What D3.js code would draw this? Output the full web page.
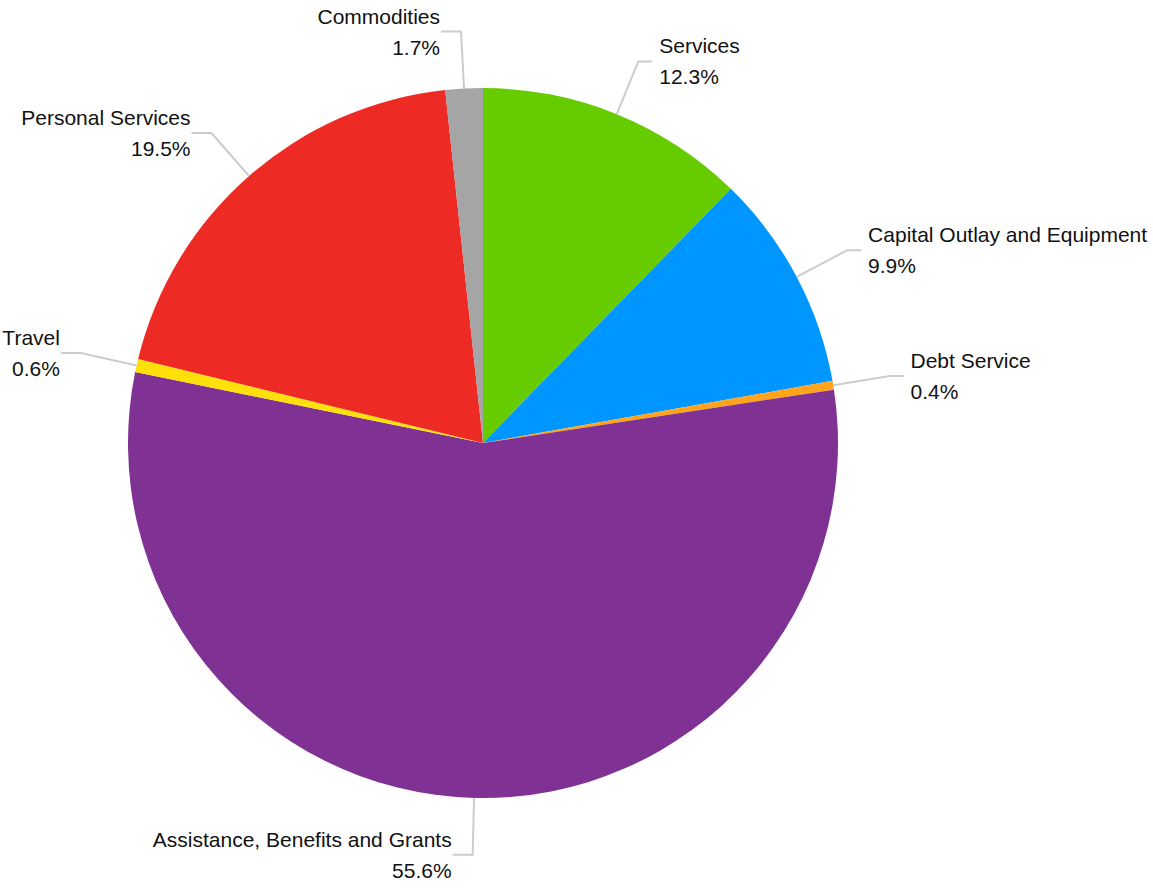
<!DOCTYPE html>
<html>
<head>
<meta charset="utf-8">
<script src="https://cdn.jsdelivr.net/npm/d3@7"></script>
<style>
  html, body { margin: 0; padding: 0; background: #fff; }
  svg text { font-family: "Liberation Sans", Arial, sans-serif; fill: #111; }
</style>
</head>
<body>
<div id="chart"></div>
<script>
const categories = ["Services", "Capital Outlay and Equipment", "Debt Service",
  "Assistance, Benefits and Grants", "Travel", "Personal Services", "Commodities"];
const shares = [12.3, 9.9, 0.4, 55.6, 0.6, 19.5, 1.7];
const colors = ["#66cc00", "#0096ff", "#ffa41c", "#803294", "#ffe00a", "#ee2a25", "#a5a5a5"];

const width = 1153, height = 888;
const cx = 483, cy = 443, radius = 355, labelRadius = 412;

const svg = d3.select("#chart").append("svg")
  .attr("width", width).attr("height", height);

const g = svg.append("g").attr("transform", `translate(${cx},${cy})`);

const data = categories.map((c, i) => ({ name: c, value: shares[i], color: colors[i] }));

const pie = d3.pie().value(d => d.value).sort(null);
const arc = d3.arc().innerRadius(0).outerRadius(radius);
const arcs = pie(data);

g.selectAll("path.slice").data(arcs).join("path")
  .attr("class", "slice")
  .attr("d", arc)
  .attr("fill", d => d.data.color);

// point on a circle of radius r at angle a (0 = 12 o'clock, clockwise)
const at = (a, r) => [Math.sin(a) * r, -Math.cos(a) * r];

const labels = g.selectAll("g.label").data(arcs).join("g").attr("class", "label");

labels.each(function(d) {
  const mid = (d.startAngle + d.endAngle) / 2;
  const right = Math.sin(mid) >= 0;
  const p0 = at(mid, radius);
  const p1 = at(mid, labelRadius);
  const p2 = [p1[0] + (right ? 14 : -20), p1[1]];
  const tx = right ? p2[0] + 7 : p2[0] - 1;
  const sel = d3.select(this);

  sel.append("polyline")
    .attr("points", [p0, p1, p2].map(p => p.join(",")).join(" "))
    .attr("fill", "none")
    .attr("stroke", "#cccccc")
    .attr("stroke-width", 2);

  sel.append("text")
    .attr("x", tx).attr("y", p2[1] - 8)
    .attr("text-anchor", right ? "start" : "end")
    .style("font-size", "21px")
    .text(d.data.name);

  sel.append("text")
    .attr("x", tx).attr("y", p2[1] + 23)
    .attr("text-anchor", right ? "start" : "end")
    .style("font-size", "21px")
    .text(d3.format(".1f")(d.data.value) + "%");
});
</script>
</body>
</html>
